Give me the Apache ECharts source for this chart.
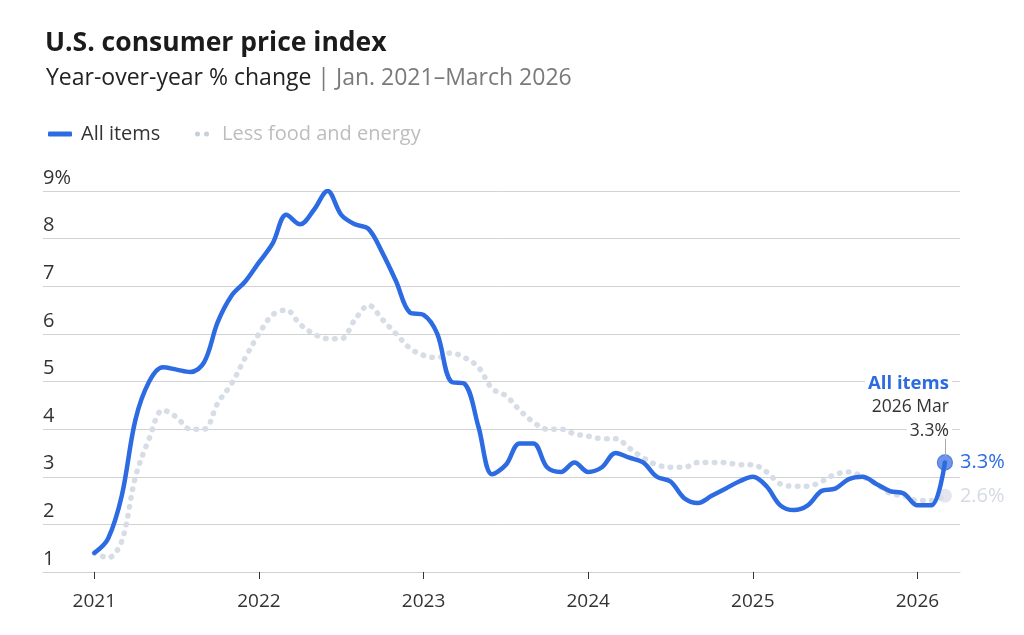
<!DOCTYPE html>
<html>
<head>
<meta charset="utf-8">
<script src="https://cdn.jsdelivr.net/npm/echarts@6/dist/echarts.min.js"></script>
<style>
html,body{margin:0;padding:0;background:#fff;}
#chart{width:1024px;height:635px;}
</style>
</head>
<body>
<div id="chart"></div>
<script>
// Months from Jan 2021 (index 0) to Mar 2026 (index 62)
const startYear = 2021;
const yearTicks = [2021, 2022, 2023, 2024, 2025, 2026];
const yTicks = [1, 2, 3, 4, 5, 6, 7, 8, 9];

const allItems = [
  1.4, 1.7, 2.6, 4.2, 5.0, 5.3, 5.25, 5.2, 5.4, 6.25, 6.8, 7.1,
  7.5, 7.9, 8.5, 8.3, 8.6, 9.0, 8.5, 8.3, 8.2, 7.7, 7.1, 6.45,
  6.4, 6.0, 5.0, 4.95, 4.05, 3.05, 3.25, 3.7, 3.7, 3.2, 3.1, 3.3,
  3.1, 3.2, 3.5, 3.4, 3.3, 3.0, 2.9, 2.55, 2.45, 2.6, 2.75, 2.9,
  3.0, 2.8, 2.4, 2.3, 2.4, 2.7, 2.75, 2.95, 3.0, 2.85, 2.7, 2.65,
  2.4, 2.4, 3.3
];
const lessFoodEnergy = [
  1.4, 1.3, 1.65, 3.0, 3.8, 4.4, 4.25, 4.0, 4.0, 4.55, 4.95, 5.5,
  6.0, 6.4, 6.5, 6.2, 6.0, 5.9, 5.9, 6.3, 6.6, 6.3, 6.0, 5.7,
  5.55, 5.5, 5.6, 5.5, 5.3, 4.85, 4.7, 4.4, 4.15, 4.0, 4.0, 3.9,
  3.85, 3.8, 3.8, 3.6, 3.4, 3.25, 3.2, 3.2, 3.3, 3.3, 3.3, 3.25,
  3.25, 3.1, 2.85, 2.8, 2.8, 2.9, 3.05, 3.1, 3.0, 2.85, 2.65, 2.6,
  2.5, 2.5, 2.6
];
const seriesNames = ['All items', 'Less food and energy'];
const lastLabel = '2026 Mar';

const FONT = '"Open Sans", sans-serif';
const BLUE = '#2d6be3';
const CORE = '#d7dde6';

const toPairs = arr => arr.map((v, i) => [i, v]);
const last = allItems.length - 1;
const tickValues = yearTicks.map(y => (y - startYear) * 12);

const chart = echarts.init(document.getElementById('chart'), null, {renderer: 'canvas'});
chart.setOption({
  animation: false,
  backgroundColor: '#fff',
  title: [{
    text: 'U.S. consumer price index',
    left: 40, top: 25,
    textStyle: {fontFamily: FONT, fontSize: 26.5, fontWeight: 'bold', color: '#1b1b1b'}
  }, {
    text: '{a|Year-over-year % change} {b|| Jan. 2021–March 2026}',
    left: 41, top: 62,
    textStyle: {
      fontFamily: FONT, fontSize: 23, fontWeight: 'normal',
      rich: {
        a: {fontFamily: FONT, fontSize: 23, fontWeight: 'normal', color: '#222'},
        b: {fontFamily: FONT, fontSize: 23, fontWeight: 'normal', color: '#7a7a7a'}
      }
    }
  }],
  legend: [{
    data: [{name: seriesNames[0], icon: 'roundRect'}],
    left: 43, top: 119,
    itemWidth: 24, itemHeight: 5, itemGap: 10,
    textStyle: {fontFamily: FONT, fontSize: 20, color: '#333', padding: [0, 0, 0, 4]}
  }, {
    data: [{
      name: seriesNames[1],
      icon: 'path://M0,2.5a2.5,2.5 0 1,0 5,0a2.5,2.5 0 1,0 -5,0M9,2.5a2.5,2.5 0 1,0 5,0a2.5,2.5 0 1,0 -5,0',
      itemStyle: {color: '#c7cfdb'}
    }],
    left: 190, top: 119,
    itemWidth: 14, itemHeight: 5,
    textStyle: {fontFamily: FONT, fontSize: 20, color: '#bdbdbd', padding: [0, 0, 0, 8]}
  }],
  grid: {left: 43, right: 64, top: 191, bottom: 63, containLabel: false},
  xAxis: {
    type: 'value',
    min: -3.74, max: 63.1,
    axisLine: {show: true, lineStyle: {color: '#d2d2d2', width: 1}},
    axisTick: {show: true, customValues: tickValues, length: 7, lineStyle: {color: '#333', width: 1}},
    axisLabel: {
      customValues: tickValues,
      formatter: v => String(startYear + Math.round(v / 12)),
      fontFamily: FONT, fontSize: 19, color: '#333', margin: 20
    },
    splitLine: {show: false}
  },
  yAxis: {
    type: 'value',
    min: 1, max: 9, interval: 1,
    axisLine: {show: false},
    axisTick: {show: false},
    axisLabel: {
      inside: true, margin: 0,
      align: 'left', verticalAlign: 'bottom',
      padding: [0, 0, 3, 0],
      fontFamily: FONT, fontSize: 20, color: '#333',
      formatter: v => v === 9 ? '9%' : String(v)
    },
    splitLine: {show: true, lineStyle: {color: '#d2d2d2', width: 1}}
  },
  series: [{
    name: 'endpoints-core',
    type: 'scatter',
    data: [[last, lessFoodEnergy[last]]],
    symbol: 'circle', symbolSize: 14,
    itemStyle: {color: '#e3e7ed', opacity: 1},
    label: {
      show: true, position: 'right', distance: 8,
      formatter: p => p.value[1].toFixed(1) + '%',
      fontFamily: FONT, fontSize: 20, color: '#d5dae2'
    },
    silent: true, z: 1
  }, {
    name: 'endpoints-all',
    type: 'scatter',
    data: [[last, allItems[last]]],
    symbol: 'circle', symbolSize: 15,
    itemStyle: {color: '#6e95e8', borderColor: '#4f7fe0', borderWidth: 1.2, opacity: 1},
    label: {
      show: true, position: 'right', distance: 7,
      formatter: p => p.value[1].toFixed(1) + '%',
      fontFamily: FONT, fontSize: 20, color: BLUE, opacity: 1
    },
    silent: true, z: 1
  }, {
    name: seriesNames[1],
    type: 'line',
    data: toPairs(lessFoodEnergy),
    smooth: 0.35,
    showSymbol: false,
    lineStyle: {color: CORE, width: 5.5, type: [0.5, 8.5], cap: 'round'},
    itemStyle: {color: CORE},
    z: 2
  }, {
    name: seriesNames[0],
    type: 'line',
    data: toPairs(allItems),
    smooth: 0.35,
    showSymbol: false,
    lineStyle: {color: BLUE, width: 4.5, cap: 'round', join: 'round'},
    itemStyle: {color: BLUE},
    z: 3
  }, {
    name: 'annotation',
    type: 'scatter',
    data: [[last, allItems[last]]],
    symbolSize: 14,
    itemStyle: {color: 'rgba(0,0,0,0)', opacity: 1},
    label: {
      show: true, opacity: 1,
      position: [14, -12],
      align: 'right', verticalAlign: 'bottom',
      formatter: p => '{a|' + seriesNames[0] + '}\n{b|' + lastLabel + '}\n{b|' + p.value[1].toFixed(1) + '%}',
      rich: {
        a: {fontFamily: FONT, fontSize: 18.5, fontWeight: 'bold', color: BLUE, backgroundColor: '#fff', padding: [0, 3], lineHeight: 24, align: 'right'},
        b: {fontFamily: FONT, fontSize: 17.5, color: '#333', backgroundColor: '#fff', padding: [0, 3], lineHeight: 24, align: 'right'}
      }
    },
    markLine: {
      silent: true,
      symbol: ['none', 'none'],
      label: {show: false},
      lineStyle: {color: '#aaaaaa', width: 1, type: 'solid'},
      data: [[{coord: [last, 3.43]}, {coord: [last, 3.8]}]]
    },
    silent: true, z: 4
  }]
});
</script>
</body>
</html>
